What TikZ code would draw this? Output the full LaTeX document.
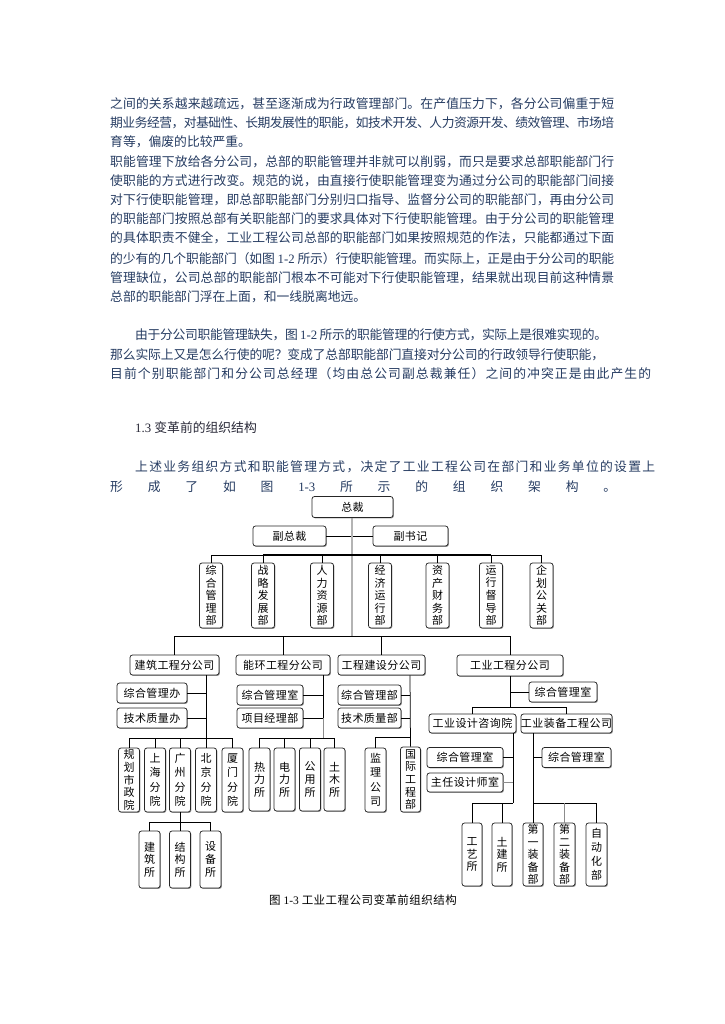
\documentclass[tikz,border=0pt]{standalone}
\usepackage{fontspec}
\usetikzlibrary{shadows}
\setmainfont{Noto Sans CJK SC}
\newfontfamily\chartfont[LetterSpace=4]{Noto Sans CJK SC}
\newfontfamily\lat{Liberation Serif}
\definecolor{bodyc}{RGB}{38,60,98}
\definecolor{headc}{RGB}{40,40,55}
\definecolor{trunkc}{RGB}{180,180,180}
\makeatletter
\def\jl@stop{\jl@stop}
\newcommand\jline[2]{\hbox to #1{\jl@a#2\jl@stop}}
\def\jl@a#1{#1\jl@b}
\def\jl@b#1{\ifx\jl@stop#1\else\hskip 0pt plus 1fil minus 0.6pt\relax#1\expandafter\jl@b\fi}
\makeatother
\tikzset{
  body/.style={anchor=base west, inner sep=0pt, text=bodyc, font={\fontsize{12.8}{15}\selectfont}},
  hb/.style={draw=black!85, line width=0.75pt, rounded corners=2.5pt, inner sep=0pt, fill=white,
    drop shadow={shadow xshift=0.9pt, shadow yshift=-0.9pt, fill=black!40, opacity=1},
    font={\chartfont\fontsize{11}{13}\selectfont}},
  vb/.style={hb, align=center, font={\chartfont\fontsize{11}{12.6}\selectfont}},
  vb4/.style={vb, font={\chartfont\fontsize{11}{14.5}\selectfont}},
  ln/.style={line width=0.75pt, black},
  gln/.style={line width=0.75pt, black!45},
  thk/.style={line width=1.8pt, black},
  trunk/.style={line width=1.8pt, trunkc},
}
\begin{document}
\begin{tikzpicture}[x=1pt, y=-1pt]
\useasboundingbox (0,0) rectangle (724,1024);
\fill[white] (0,0) rectangle (724,1024);
% ---------- body text ----------
\node[body] (t1) at (110,109) {\jline{504pt}{之间的关系越来越疏远，甚至逐渐成为行政管理部门。在产值压力下，各分公司偏重于短}};
\node[body] (t2) at (110,128) {\jline{504pt}{期业务经营，对基础性、长期发展性的职能，如技术开发、人力资源开发、绩效管理、市场培}};
\node[body] (t3) at (110,147) {育等，偏废的比较严重。};
\node[body] (t4) at (110,167) {\jline{504pt}{职能管理下放给各分公司，总部的职能管理并非就可以削弱，而只是要求总部职能部门行}};
\node[body] (t5) at (110,186) {\jline{504pt}{使职能的方式进行改变。规范的说，由直接行使职能管理变为通过分公司的职能部门间接}};
\node[body] (t6) at (110,205) {\jline{504pt}{对下行使职能管理，即总部职能部门分别归口指导、监督分公司的职能部门，再由分公司}};
\node[body] (t7) at (110,224) {\jline{504pt}{的职能部门按照总部有关职能部门的要求具体对下行使职能管理。由于分公司的职能管理}};
\node[body] (t8) at (110,243) {\jline{504pt}{的具体职责不健全，工业工程公司总部的职能部门如果按照规范的作法，只能都通过下面}};
\node[body] (t9) at (110,263) {\jline{504pt}{的少有的几个职能部门（如图{{\lat\ 1-2\ }}所示）行使职能管理。而实际上，正是由于分公司的职能}};
\node[body] (t10) at (110,282) {\jline{504pt}{管理缺位，公司总部的职能部门根本不可能对下行使职能管理，结果就出现目前这种情景}};
\node[body] (t11) at (110,301) {总部的职能部门浮在上面，和一线脱离地远。};
\node[body] (t12) at (135,339) {\jline{472pt}{由于分公司职能管理缺失，图{{\lat\ 1-2\ }}所示的职能管理的行使方式，实际上是很难实现的。}};
\node[body] (t13) at (110,359) {\jline{494pt}{那么实际上又是怎么行使的呢？变成了总部职能部门直接对分公司的行政领导行使职能，}};
\node[body] (t14) at (110,378) {\jline{541pt}{目前个别职能部门和分公司总经理（均由总公司副总裁兼任）之间的冲突正是由此产生的}};
\node[body, text=headc] (t15) at (135,432) {{\lat 1.3 }变革前的组织结构};
\node[body] (t16) at (135,471) {\jline{520pt}{上述业务组织方式和职能管理方式，决定了工业工程公司在部门和业务单位的设置上}};
\node[body] (t17) at (110,491) {\jline{506pt}{形成了如图{{\lat 1-3}}所示的组织架构。}};
% ---------- chart: top ----------
\coordinate (sbus) at (0,636);
\coordinate (dbus) at (0,555);
\draw[trunk] (352,518) -- (352,636);
\node[hb, minimum width=81, minimum height=21] (zc) at (352.5,507) {总裁};
\node[hb, minimum width=73, minimum height=20] (fz) at (289.5,536) {副总裁};
\node[hb, minimum width=75, minimum height=20] (fs) at (410.5,536) {副书记};
\draw[ln] (fz.east) -- (fs.west);
\draw[trunk] (352,526) -- (352,546);
% departments
\node[vb, minimum width=23, minimum height=65] (d1) at (211,595.5) {综\\合\\管\\理\\部};
\node[vb, minimum width=23, minimum height=65] (d2) at (263,595.5) {战\\略\\发\\展\\部};
\node[vb, minimum width=23, minimum height=65] (d3) at (322,595.5) {人\\力\\资\\源\\部};
\node[vb, minimum width=23, minimum height=65] (d4) at (380,595.5) {经\\济\\运\\行\\部};
\node[vb, minimum width=23, minimum height=65] (d5) at (437.5,595.5) {资\\产\\财\\务\\部};
\node[vb, minimum width=23, minimum height=65] (d6) at (491,595.5) {运\\行\\督\\导\\部};
\node[vb, minimum width=23, minimum height=65] (d7) at (541.5,595.5) {企\\划\\公\\关\\部};
\draw[ln] (d1.north |- dbus) -- (d7.north |- dbus);
\draw[thk] (d2.north |- dbus) -- (d6.north |- dbus);
\foreach \n in {d1,d2,d3,d4,d5,d6,d7} \draw[ln] (\n.north) -- (\n.north |- dbus);
% subsidiaries
\node[hb, minimum width=89, minimum height=20] (s1) at (174.5,665) {建筑工程分公司};
\node[hb, minimum width=94, minimum height=20] (s2) at (283,665) {能环工程分公司};
\node[hb, minimum width=87, minimum height=20] (s3) at (381.5,665) {工程建设分公司};
\node[hb, minimum width=106, minimum height=21] (s4) at (510,665.5) {工业工程分公司};
\draw[ln] (s1.north |- sbus) -- (s4.north |- sbus);
\foreach \n in {s1,s2,s3,s4} \draw[ln] (\n.north) -- (\n.north |- sbus);
% ---------- 建筑工程分公司 ----------
\coordinate (j1) at (206,738);
\node[hb, minimum width=70, minimum height=20] (a1) at (152,693) {综合管理办};
\node[hb, minimum width=70, minimum height=20] (a2) at (152,718) {技术质量办};
\draw[ln] (j1 |- s1.south) -- (j1);
\draw[ln] (a1.east) -- (a1.east -| j1);
\draw[ln] (a2.east) -- (a2.east -| j1);
\node[vb, minimum width=21, minimum height=64] (b1) at (129,780) {规\\划\\市\\政\\院};
\node[vb4, minimum width=21, minimum height=64] (b2) at (155,780) {上\\海\\分\\院};
\node[vb4, minimum width=21, minimum height=64] (b3) at (180,780) {广\\州\\分\\院};
\node[vb4, minimum width=21, minimum height=64] (b4) at (206,780) {北\\京\\分\\院};
\node[vb4, minimum width=21, minimum height=64] (b5) at (232.5,780) {厦\\门\\分\\院};
\draw[ln] (b1.north |- j1) -- (b5.north |- j1);
\foreach \n in {b1,b2,b3,b4,b5} \draw[ln] (\n.north) -- (\n.north |- j1);
\coordinate (j2) at (0,822);
\node[vb, minimum width=21, minimum height=57] (c1) at (149.5,859.5) {建\\筑\\所};
\node[vb, minimum width=21, minimum height=57] (c2) at (180,859.5) {结\\构\\所};
\node[vb, minimum width=21, minimum height=57] (c3) at (210.5,859.5) {设\\备\\所};
\draw[ln] (b3.south) -- (b3.south |- j2);
\draw[ln] (c1.north |- j2) -- (c3.north |- j2);
\foreach \n in {c1,c2,c3} \draw[ln] (\n.north) -- (\n.north |- j2);
% ---------- 能环工程分公司 ----------
\coordinate (j3) at (323,738);
\coordinate (j3m) at (323,718);
\node[hb, minimum width=66, minimum height=20] (e1) at (270,695) {综合管理室};
\node[hb, minimum width=66, minimum height=20] (e2) at (270,718) {项目经理部};
\draw[ln] (j3 |- s2.south) -- (j3m);
\draw[gln] (j3m) -- (j3);
\draw[ln] (e1.east) -- (e1.east -| j3);
\draw[ln] (e2.east) -- (e2.east -| j3);
\node[vb, minimum width=21, minimum height=63] (f1) at (259.5,779.5) {热\\力\\所};
\node[vb, minimum width=21, minimum height=63] (f2) at (284.5,779.5) {电\\力\\所};
\node[vb, minimum width=21, minimum height=63] (f3) at (310,779.5) {公\\用\\所};
\node[vb, minimum width=21, minimum height=63] (f4) at (334.5,779.5) {土\\木\\所};
\draw[ln] (f1.north |- j3) -- (f4.north |- j3);
\foreach \n in {f1,f2,f3,f4} \draw[ln] (\n.north) -- (\n.north |- j3);
% ---------- 工程建设分公司 ----------
\coordinate (j4) at (410,737);
\node[hb, minimum width=63, minimum height=20] (g1) at (369.5,695) {综合管理部};
\node[hb, minimum width=63, minimum height=20] (g2) at (369.5,718) {技术质量部};
\node[vb4, minimum width=21, minimum height=64] (h1) at (375.5,780) {监\\理\\公\\司};
\node[vb, minimum width=20, minimum height=65] (h2) at (410.5,779.5) {国\\际\\工\\程\\部};
\draw[ln] (j4 |- s3.south) -- (h2.north);
\draw[ln] (g1.east) -- (g1.east -| j4);
\draw[ln] (g2.east) -- (g2.east -| j4);
\draw[ln] (h1.north |- j4) -- (j4);
\draw[ln] (h1.north) -- (h1.north |- j4);
% ---------- 工业工程分公司 ----------
\coordinate (j5) at (510,707);
\node[hb, minimum width=68, minimum height=20] (k0) at (563,692) {综合管理室};
\node[hb, minimum width=87, minimum height=19] (k1) at (472.5,723.5) {工业设计咨询院};
\node[hb, minimum width=89, minimum height=19] (k2) at (566.5,723.5) {工业装备工程公司};
\draw[ln] (s4.south) -- (j5);
\draw[ln] (k0.west) -- (k0.west -| j5);
\draw[ln] (k1.north |- j5) -- (k2.north |- j5);
\foreach \n in {k1,k2} \draw[ln] (\n.north) -- (\n.north |- j5);
% 工业设计咨询院
\coordinate (j6) at (513,803);
\node[hb, minimum width=76, minimum height=20] (m1) at (465,757.5) {综合管理室};
\node[hb, minimum width=76, minimum height=19] (m2) at (465,782.5) {主任设计师室};
\draw[ln] (j6 |- k1.south) -- (j6);
\draw[ln] (m1.east) -- (m1.east -| j6);
\draw[gln] (m2.east) -- (m2.east -| j6);
\node[vb, minimum width=20, minimum height=63] (n1) at (472,854.5) {工\\艺\\所};
\node[vb, minimum width=20, minimum height=63] (n2) at (502,854.5) {土\\建\\所};
\draw[ln] (n1.north |- j6) -- (j6);
\foreach \n in {n1,n2} \draw[ln] (\n.north) -- (\n.north |- j6);
% 工业装备工程公司
\coordinate (j7) at (533,803);
\node[hb, minimum width=69, minimum height=20] (p0) at (576.5,757.5) {综合管理室};
\draw[ln] (j7 |- k2.south) -- (j7);
\draw[ln] (p0.west) -- (p0.west -| j7);
\node[vb, minimum width=20, minimum height=63] (q1) at (533,854.5) {第\\一\\装\\备\\部};
\node[vb, minimum width=21, minimum height=63] (q2) at (564.5,854.5) {第\\二\\装\\备\\部};
\node[vb, minimum width=21, minimum height=63, font={\chartfont\fontsize{11}{14}\selectfont}] (q3) at (596.5,854.5) {自\\动\\化\\部};
\draw[ln] (j7) -- (q3.north |- j7);
\draw[ln] (q1.north) -- (q1.north |- j7);
\draw[gln] (q2.north) -- (q2.north |- j7);
\draw[ln] (q3.north) -- (q3.north |- j7);
% caption
\node[inner sep=0pt, font={\chartfont\fontsize{11.5}{13}\selectfont}] (cap) at (363,900) {图{\lat\ 1-3\ }工业工程公司变革前组织结构};
\end{tikzpicture}
\end{document}
